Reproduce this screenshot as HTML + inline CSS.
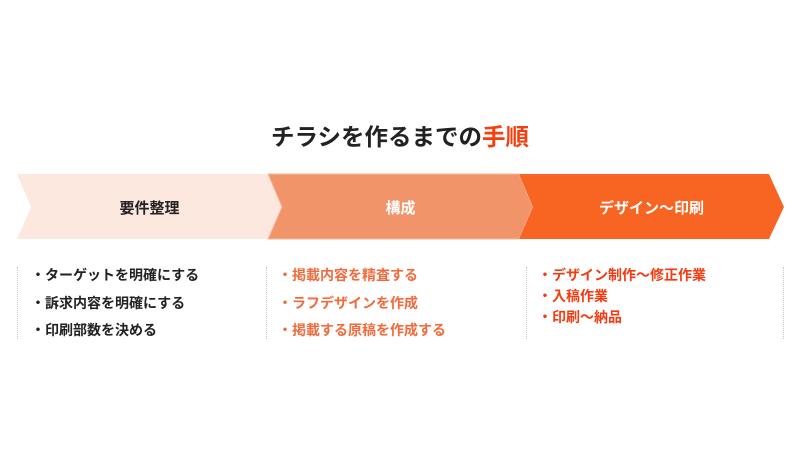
<!DOCTYPE html>
<html><head><meta charset="utf-8"><style>
body{margin:0;width:800px;height:450px;background:#fff;position:relative;overflow:hidden;font-family:"Liberation Sans","Noto Sans CJK JP",sans-serif;font-weight:bold}
.t{position:absolute;white-space:nowrap}
.l{position:absolute;top:267px;height:72px;border-left:1px dotted #c8c8c8}
</style></head><body>
<div class="t" style="left:0;width:800px;text-align:center;top:118px;font-size:23.5px;color:#222">チラシを作るまでの<span style="color:#f5400e">手順</span></div>
<svg width="800" height="450" style="position:absolute;left:0;top:0">
<polygon points="17,174 268,174 282,207 268,239 17,239 31,207" fill="#fde8e0"/>
<polygon points="268,174 519,174 533,207 519,239 268,239 282,207" fill="#f2946a" stroke="#f7b89a" stroke-width="1"/>
<polygon points="519,174 769,174 784,207 769,239 519,239 533,207" fill="#f86422"/>
</svg>
<div class="t" style="left:17px;width:265px;text-align:center;top:197px;font-size:15px;color:#222">要件整理</div>
<div class="t" style="left:268px;width:265px;text-align:center;top:197px;font-size:15px;color:#fff">構成</div>
<div class="t" style="left:519px;width:265px;text-align:center;top:197px;font-size:15px;color:#fff">デザイン～印刷</div>
<div class="l" style="left:17px"></div><div class="l" style="left:266px"></div><div class="l" style="left:526px"></div><div class="l" style="left:783px"></div>
<div class="t" style="left:31px;top:262px;font-size:14px;line-height:27.5px;color:#222">・ターゲットを明確にする<br>・訴求内容を明確にする<br>・印刷部数を決める</div>
<div class="t" style="left:278px;top:262px;font-size:14px;line-height:27.5px;color:#f26a3c">・掲載内容を精査する<br>・ラフデザインを作成<br>・掲載する原稿を作成する</div>
<div class="t" style="left:538px;top:265px;font-size:14px;line-height:21px;color:#f53a10">・デザイン制作～修正作業<br>・入稿作業<br>・印刷～納品</div>
</body></html>
